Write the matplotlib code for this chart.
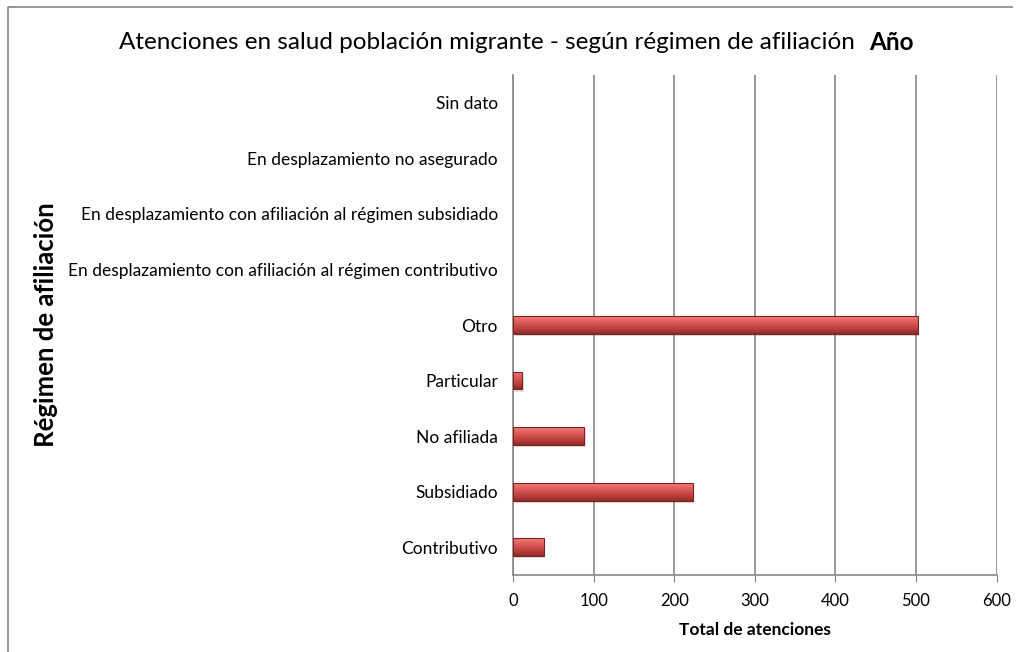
import numpy as np
import matplotlib.pyplot as plt
from matplotlib.patches import Rectangle

plt.rcParams["font.family"] = ["Lato", "DejaVu Sans"]

# ==============================
# Data
# ==============================
categorias = [
    "Contributivo",
    "Subsidiado",
    "No afiliada",
    "Particular",
    "Otro",
    "En desplazamiento con afiliación al régimen contributivo",
    "En desplazamiento con afiliación al régimen subsidiado",
    "En desplazamiento no asegurado",
    "Sin dato",
]
atenciones = [38, 223, 88, 11, 502, 0, 0, 0, 0]
x_ticks = [0, 100, 200, 300, 400, 500, 600]

# ==============================
# Plot
# ==============================
fig = plt.figure(figsize=(10.18, 6.52), dpi=100)
ax = fig.add_axes([0.504, 0.118, 0.475, 0.767])

y = np.arange(len(categorias))
bars = ax.barh(y, atenciones, height=0.32, color="#C84C4A",
               linewidth=0, zorder=3)

# shaded bevel look on each bar
grad = np.linspace(0, 1, 64).reshape(-1, 1)
cmap = plt.matplotlib.colors.LinearSegmentedColormap.from_list(
    "bevel", ["#8E2B2A", "#B53E3C", "#CF4E4C", "#E46260", "#F47E7B"])
for b in bars:
    w = b.get_width()
    if w <= 0:
        continue
    x0, y0, h = b.get_x(), b.get_y(), b.get_height()
    # drop shadow
    ax.add_patch(Rectangle((x0 + 2, y0 - 0.04), w, h, facecolor="#000000",
                           alpha=0.12, linewidth=0, zorder=2))
    im = ax.imshow(grad, cmap=cmap, aspect="auto", origin="lower",
                   extent=(x0, x0 + w, y0, y0 + h), zorder=4)
    im.set_clip_path(b)
    ax.add_patch(Rectangle((x0, y0), w, h, facecolor="none",
                           edgecolor="#7A2422", linewidth=0.8, zorder=5))

ax.set_xlim(0, 600)
ax.set_ylim(-0.5, len(categorias) - 0.5)
ax.set_xticks(x_ticks)
ax.set_yticks(y)
ax.set_yticklabels(categorias, fontsize=12.5)
ax.tick_params(axis="x", labelsize=12, length=5, color="#868686", pad=8)
ax.tick_params(axis="y", length=0, pad=11)

ax.grid(axis="x", color="#868686", linewidth=1.2, zorder=0)
for s in ["top", "right"]:
    ax.spines[s].set_visible(False)
for s in ["left", "bottom"]:
    ax.spines[s].set_color("#868686")
    ax.spines[s].set_linewidth(1.2)

ax.set_xlabel("Total de atenciones", fontsize=12.5, fontweight="bold", labelpad=9)
fig.text(0.045, 0.502, "Régimen de afiliación", rotation=90, fontsize=18.5,
         fontweight="bold", ha="center", va="center")

# title with bold year
fig.text(0.852, 0.935, "Atenciones en salud población migrante - según régimen de afiliación  ",
         fontsize=17.5, ha="right", va="center")
fig.text(0.854, 0.935, "Año", fontsize=17.5, fontweight="bold", ha="left", va="center")

# chart border
fig.add_artist(plt.Line2D([0.008, 0.008, 0.994], [0.0, 0.989, 0.989],
                          color="#868686", linewidth=1.2))

plt.savefig("out.png", dpi=100)
